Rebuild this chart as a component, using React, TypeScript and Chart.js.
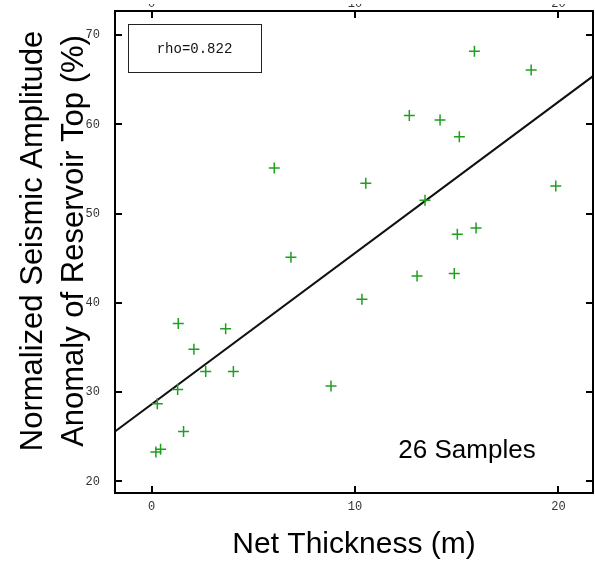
import React, { useEffect, useRef } from "react";
import { Chart, registerables } from "chart.js";
Chart.register(...registerables);

const thicknessM = [6.03, 6.85, 1.31, 3.64, 2.08, 2.66, 4.02, 1.28, 0.28, 8.82, 1.57, 0.21, 0.44, 10.34, 15.87, 18.66, 12.67, 14.18, 15.13, 10.53, 19.87, 13.44, 15.03, 15.95, 13.05, 14.88];
const amplitudePct = [55.1, 45.1, 37.7, 37.1, 34.8, 32.3, 32.3, 30.3, 28.7, 30.7, 25.6, 23.3, 23.6, 40.4, 68.2, 66.1, 61.0, 60.5, 58.6, 53.4, 53.1, 51.5, 47.7, 48.4, 43.0, 43.3];
const fitX = [-1.8, 21.7];
const fitY = [25.6, 65.4];
const xTicks = [0, 10, 20];
const yTicks = [20, 30, 40, 50, 60, 70];
const xRange = [-1.8, 21.7];
const yRange = [18.7, 72.7];
const rhoText = "rho=0.822";
const samplesText = "26 Samples";
const xTitle = "Net Thickness (m)";
const yTitle = ["Normalized Seismic Amplitude", "Anomaly of Reservoir Top (%)"];

const tickFont = '12px "Liberation Mono", monospace';

const decor = {
  id: "decor",
  afterDatasetsDraw(chart: any) {
    const { ctx, chartArea: a, scales } = chart;
    const x = scales.x;
    const y = scales.y;
    ctx.save();
    ctx.strokeStyle = "#000";
    ctx.lineWidth = 2;
    ctx.strokeRect(a.left, a.top, a.right - a.left, a.bottom - a.top);
    ctx.beginPath();
    const tl = 7;
    x.ticks.forEach((t: any) => {
      const px = Math.round(x.getPixelForValue(t.value));
      ctx.moveTo(px, a.bottom);
      ctx.lineTo(px, a.bottom - tl);
      ctx.moveTo(px, a.top);
      ctx.lineTo(px, a.top + tl);
    });
    y.ticks.forEach((t: any) => {
      const py = Math.round(y.getPixelForValue(t.value));
      ctx.moveTo(a.left, py);
      ctx.lineTo(a.left + tl, py);
      ctx.moveTo(a.right, py);
      ctx.lineTo(a.right - tl, py);
    });
    ctx.stroke();

    // clipped top tick labels (only their lower edge shows, as in the source)
    ctx.save();
    ctx.beginPath();
    ctx.rect(0, 4, chart.width, a.top - 6);
    ctx.clip();
    ctx.fillStyle = "#333";
    ctx.font = tickFont;
    ctx.textAlign = "center";
    ctx.textBaseline = "alphabetic";
    x.ticks.forEach((t: any) => {
      const px = x.getPixelForValue(t.value);
      ctx.fillText(String(t.value), px, a.top - 4);
    });
    ctx.restore();

    // rho box
    ctx.lineWidth = 1;
    ctx.strokeStyle = "#222";
    const bx = a.left + 13;
    const by = a.top + 13;
    const bw = 133;
    const bh = 48;
    ctx.strokeRect(bx + 0.5, by + 0.5, bw, bh);
    ctx.fillStyle = "#111";
    ctx.font = '14px "Liberation Mono", monospace';
    ctx.textAlign = "center";
    ctx.textBaseline = "middle";
    ctx.fillText(rhoText, bx + bw / 2, by + bh / 2 + 1);

    // samples text
    ctx.font = '26px "Liberation Sans", Arial, sans-serif';
    ctx.textAlign = "center";
    ctx.textBaseline = "alphabetic";
    ctx.fillStyle = "#000";
    ctx.fillText(samplesText, a.right - 126, a.bottom - 35);

    // x title
    ctx.font = '30px "Liberation Sans", Arial, sans-serif';
    ctx.fillText(xTitle, (a.left + a.right) / 2, 553);

    // y title
    ctx.font = '31px "Liberation Sans", Arial, sans-serif';
    const cy = 241;
    [42, 83].forEach((bxl, i) => {
      ctx.save();
      ctx.translate(bxl, cy);
      ctx.rotate(-Math.PI / 2);
      ctx.textAlign = "center";
      ctx.textBaseline = "alphabetic";
      ctx.fillText(yTitle[i], 0, 0);
      ctx.restore();
    });
    ctx.restore();
  },
};

const zeroPad = (s: any) => {
  s.paddingTop = 0;
  s.paddingBottom = 0;
  s.paddingLeft = 0;
  s.paddingRight = 0;
};

export default function App() {
  const ref = useRef<HTMLCanvasElement>(null);
  useEffect(() => {
    document.body.style.margin = "0";
    const chart = new Chart(ref.current as HTMLCanvasElement, {
      type: "scatter",
      data: {
        datasets: [
          {
            label: "samples",
            data: thicknessM.map((v, i) => ({ x: v, y: amplitudePct[i] })),
            pointStyle: "cross",
            pointRadius: 5.5,
            pointHoverRadius: 5.5,
            borderColor: "rgb(30,160,30)",
            backgroundColor: "rgb(30,160,30)",
            pointBorderWidth: 1.5,
            showLine: false,
          },
          {
            label: "fit",
            type: "line",
            data: fitX.map((v, i) => ({ x: v, y: fitY[i] })),
            borderColor: "#111",
            borderWidth: 2,
            pointRadius: 0,
            fill: false,
          } as any,
        ],
      },
      options: {
        animation: false,
        responsive: false,
        events: [],
        layout: { autoPadding: false, padding: { left: 0, top: 11, right: 2, bottom: 0 } },
        plugins: { legend: { display: false }, tooltip: { enabled: false } },
        scales: {
          x: {
            type: "linear",
            min: xRange[0],
            max: xRange[1],
            afterBuildTicks: (s: any) => {
              s.ticks = xTicks.map((v) => ({ value: v }));
            },
            afterFit: (s: any) => {
              s.height = 68;
              zeroPad(s);
            },
            grid: { display: false, drawTicks: false },
            border: { display: false },
            ticks: { font: { family: '"Liberation Mono", monospace', size: 12 }, color: "#333", padding: 7, maxRotation: 0 },
          },
          y: {
            type: "linear",
            min: yRange[0],
            max: yRange[1],
            afterBuildTicks: (s: any) => {
              s.ticks = yTicks.map((v) => ({ value: v }));
            },
            afterFit: (s: any) => {
              s.width = 115;
              zeroPad(s);
            },
            grid: { display: false, drawTicks: false },
            border: { display: false },
            ticks: { font: { family: '"Liberation Mono", monospace', size: 12 }, color: "#333", padding: 15 },
          },
        },
      },
      plugins: [decor],
    });
    return () => chart.destroy();
  }, []);
  return (
    <div style={{ position: "absolute", left: 0, top: 0, width: 595, height: 561 }}>
      <canvas ref={ref} width={595} height={561} />
    </div>
  );
}
